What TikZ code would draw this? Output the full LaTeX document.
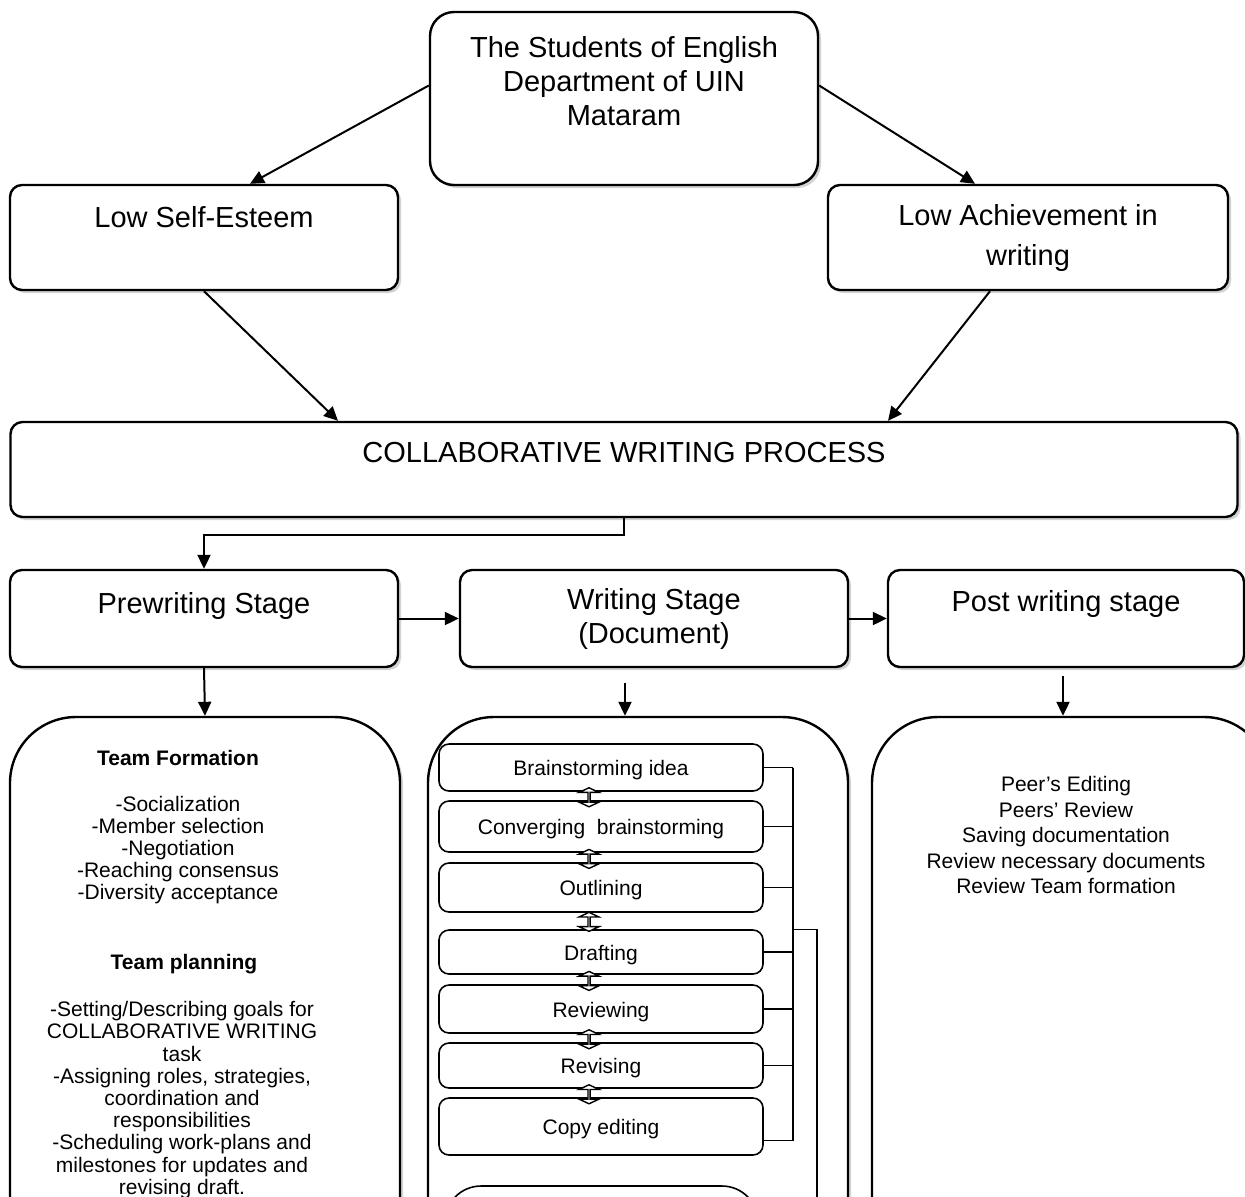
\documentclass[tikz,border=0pt]{standalone}
\usepackage{fontspec}
\setmainfont{Liberation Sans}
\usetikzlibrary{arrows.meta,calc,shadows,shapes.arrows,positioning}

\tikzset{
  stagebox/.style={draw,line width=1.2pt,rounded corners=6pt,fill=white,
    drop shadow={shadow xshift=1.5pt,shadow yshift=-1.5pt,fill=black!35},
    align=center,font=\fontsize{14.5}{17}\selectfont,inner sep=0pt},
  bigbox/.style={stagebox,rounded corners=33pt},
  stepbox/.style={draw,line width=0.8pt,rounded corners=5pt,fill=white,
    minimum width=162pt,align=center,font=\fontsize{10.5}{12}\selectfont,inner sep=0pt,
    text height=11pt,text depth=2.6pt},
  arr/.style={line width=1pt,-{Triangle[length=7pt,width=6.5pt]}},
  link/.style={line width=0.7pt},
  twoway/.style={shape=double arrow,draw,fill=white,line width=0.7pt,rotate=90,inner sep=0pt,
    minimum height=9.5pt,minimum width=10pt,double arrow head extend=3pt,
    double arrow tip angle=130},
  txt/.style={align=center,font=\fontsize{10.5}{11}\selectfont,inner sep=0pt}
}

\begin{document}
\begin{tikzpicture}[x=0.5pt,y=-0.5pt]
            \useasboundingbox (0,0) rectangle (1245,1196);

            \node[stagebox,rounded corners=12pt,minimum width=194pt,minimum height=86.5pt] (students) at (624,98.5)
              {The Students of English\\Department of UIN\\Mataram\\[-5pt]\strut};
            \node[stagebox,minimum width=194pt,minimum height=52.5pt] (lse) at (204,237.5)
              {Low Self-Esteem\\[-2pt]\strut};
            \node[stagebox,minimum width=200pt,minimum height=52.5pt,font=\fontsize{14.5}{20}\selectfont] (lach) at (1028,237.5)
              {Low Achievement in\\writing};
            \node[stagebox,minimum width=613.5pt,minimum height=47.5pt] (collab) at (624,469.5)
              {COLLABORATIVE WRITING PROCESS\\[-5pt]\strut};

            \node[stagebox,minimum width=194pt,minimum height=48.5pt] (pre) at (204,618.5)
              {Prewriting Stage\\[-7pt]\strut};
            \node[stagebox,minimum width=194pt,minimum height=48.5pt] (wri) at (654,618.5)
              {Writing Stage\\(Document)};
            \node[stagebox,minimum width=178pt,minimum height=48.5pt] (post) at (1066,618.5)
              {Post writing stage\\[-5pt]\strut};

            \node[bigbox,minimum width=195pt,minimum height=283pt] (bigl) at (205,1000) {};
            \node[bigbox,minimum width=210pt,minimum height=283pt] (bigm) at (638,1000) {};
            \node[bigbox,minimum width=199pt,minimum height=283pt] (bigr) at (1071,1000) {};

            \node[txt,font=\fontsize{10.5}{11}\selectfont\bfseries] (formhead) at (178,758) {Team Formation};
            \node[txt] (formlist) at (178,850.5)
              {-Socialization\\-Member selection\\-Negotiation\\-Reaching consensus\\-Diversity acceptance};
            \node[txt,font=\fontsize{10.5}{11}\selectfont\bfseries] (planhead) at (184,964) {Team planning};
            \node[txt,font=\fontsize{10.5}{11.1}\selectfont] (planlist) at (182,1100)
              {-Setting/Describing goals for\\COLLABORATIVE WRITING\\task\\-Assigning roles, strategies,\\coordination and\\responsibilities\\-Scheduling work-plans and\\milestones for updates and\\revising draft.};

            \node[txt,font=\fontsize{10.5}{12.75}\selectfont] (postlist) at (1066,835)
              {Peer's Editing\\Peers' Review\\Saving documentation\\Review necessary documents\\Review Team formation};

            \node[stepbox,minimum height=23.5pt] (brain) at (601,767.5) {Brainstorming idea};
            \node[stepbox,minimum height=25.5pt] (conv) at (601,826.5) {Converging\ \ brainstorming};
            \node[stepbox,minimum height=24.5pt] (outl) at (601,887.5) {Outlining};
            \node[stepbox,minimum height=22pt] (draft) at (601,952) {Drafting};
            \node[stepbox,minimum height=24pt] (review) at (601,1009) {Reviewing};
            \node[stepbox,minimum height=22.5pt] (revise) at (601,1065.5) {Revising};
            \node[stepbox,minimum height=28.5pt] (copyed) at (601,1126.5) {Copy editing};
            \node[stepbox,rounded corners=18pt,minimum width=156.5pt,minimum height=54pt] (lastbox) at (601.5,1240) {};

            \draw[arr] ([yshift=6.5pt]students.west) -- ([xshift=23pt]lse.north);
            \draw[arr] ([yshift=6.5pt]students.east) -- ([xshift=-26.5pt]lach.north);
            \draw[arr] (lse.south) -- ([xshift=-143pt]collab.north);
            \draw[arr] ([xshift=-19pt]lach.south) -- ([xshift=132pt]collab.north);
            \draw[arr] (collab.south) -- ++(0,17) -| (pre.north);
            \draw[arr] (pre.east) -- (wri.west);
            \draw[arr] (wri.east) -- (post.west);
            \draw[arr] (pre.south) -- (bigl.north);
            \draw[arr] ([xshift=-14.5pt,yshift=-7.5pt]wri.south) -- ([xshift=-6.5pt]bigm.north);
            \draw[arr] ([xshift=-1.5pt,yshift=-4pt]post.south) -- ([xshift=-4pt]bigr.north);

            \path ([xshift=-6pt]brain.south) -- ([xshift=-6pt]conv.north) node[twoway,pos=0.65] (ba1) {};
            \path ([xshift=-6pt]conv.south) -- ([xshift=-6pt]outl.north) node[twoway,pos=0.65] (ba2) {};
            \path ([xshift=-6pt]outl.south) -- ([xshift=-6pt]draft.north) node[twoway,pos=0.55] (ba3) {};
            \path ([xshift=-6pt]draft.south) -- ([xshift=-6pt]review.north) node[twoway,pos=0.65] (ba4) {};
            \path ([xshift=-6pt]review.south) -- ([xshift=-6pt]revise.north) node[twoway,pos=0.65] (ba5) {};
            \path ([xshift=-6pt]revise.south) -- ([xshift=-6pt]copyed.north) node[twoway,pos=0.65] (ba6) {};

            \coordinate (bus) at (793,764);
            \coordinate (copyend) at ([yshift=-7pt]copyed.east);
            \coordinate (tailend) at (817,1240);
            \draw[link] (brain.east) -- (brain.east -| bus);
            \draw[link] (conv.east) -- (conv.east -| bus);
            \draw[link] (outl.east) -- (outl.east -| bus);
            \draw[link] (draft.east) -- (draft.east -| bus);
            \draw[link] (review.east) -- (review.east -| bus);
            \draw[link] (revise.east) -- (revise.east -| bus);
            \draw[link] (copyend) -- (copyend -| bus);
            \draw[link] (brain.east -| bus) -- (copyend -| bus);
            \draw[link] (draft.north -| bus) -| (tailend);
\end{tikzpicture}
\end{document}
